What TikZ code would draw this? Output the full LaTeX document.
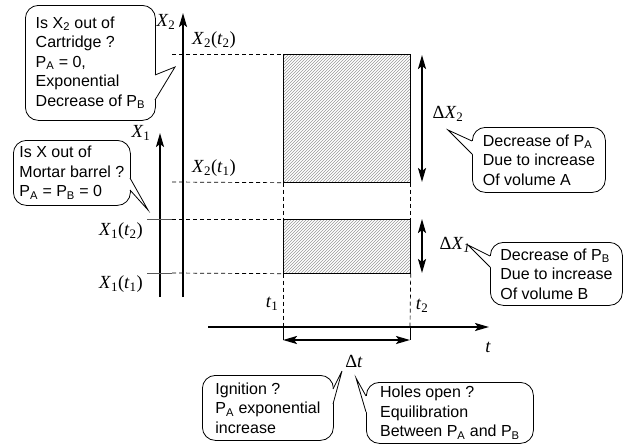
\documentclass[tikz,border=0pt]{standalone}
\usepackage[no-math]{fontspec}
\newfontfamily\bubfont{Liberation Sans}
\newfontfamily\labfont{Liberation Serif}
\usetikzlibrary{arrows.meta,patterns,calc}
\newcommand{\bubptr}[4]{%
  \fill[white] (#1) -- (#2) -- (#3) -- ($(#3)+(#4)$) -- ($(#1)+(#4)$) -- cycle;
  \draw[bubline] (#1) -- (#2) -- (#3);}
\newcommand{\lv}[2]{\textit{#1}\textsubscript{#2}}
\begin{document}
\begin{tikzpicture}[x=1pt,y=-1pt,
  bubline/.style={line width=0.8pt},
  bubble/.style={draw, line width=0.8pt, rounded corners=13pt, anchor=north west, align=left,
    font=\bubfont\fontsize{16}{19.5}\selectfont, inner sep=0pt},
  lab/.style={font=\labfont\fontsize{18.5}{21}\selectfont, inner sep=0pt},
  axis/.style={line width=2pt, -{Stealth[length=14pt,width=8pt,inset=3pt]}},
  dbl/.style={line width=2pt, {Stealth[length=14pt,width=8pt,inset=3pt]}-{Stealth[length=14pt,width=8pt,inset=3pt]}},
  guide/.style={line width=0.7pt, dash pattern=on 4pt off 3pt},
  solidguide/.style={line width=0.7pt, gray!70!black},
  hatch/.style={draw, line width=0.7pt, pattern=north east lines, pattern color=gray!80}]
\useasboundingbox (0,0) rectangle (623,445);

% axes
\coordinate (x1b) at (160,297); \coordinate (x1e) at (160,133);
\coordinate (x2b) at (183,297); \coordinate (x2e) at (183,13);
\coordinate (tb) at (208,327); \coordinate (te) at (489,327);
\draw[axis] (x1b) -- (x1e);
\draw[axis] (x2b) -- (x2e);
\draw[axis] (tb) -- (te);

% rectangles
\node[hatch, minimum width=127pt, minimum height=128pt, inner sep=0pt, anchor=north west] (rA) at (283,54) {};
\node[hatch, minimum width=127pt, minimum height=54pt, inner sep=0pt, anchor=north west] (rB) at (283,219) {};

% guide lines
\coordinate (g2a) at (172,54); \coordinate (g2b) at (172,182);
\coordinate (g1a0) at (147,219); \coordinate (g1a) at (172,219);
\coordinate (g1b0) at (147,273); \coordinate (g1b) at (172,273);
\draw[guide] (g2a) -- (rA.north west);
\draw[guide] (g2b) -- (rA.south west);
\draw[solidguide] (g1a0) -- (g1a);
\draw[solidguide] (g1b0) -- (g1b);
\draw[guide] (g1a) -- (rB.north west);
\draw[guide] (g1b) -- (rB.south west);
\draw[guide] (rA.south west) -- (rB.north west);
\draw[guide] (rA.south east) -- (rB.north east);
\coordinate (t1a) at (283,327); \coordinate (t1b) at (283,340);
\coordinate (t2a) at (410,327); \coordinate (t2b) at (410,340);
\draw[guide] (rB.south west) -- (t1a);
\draw[guide] (rB.south east) -- (t2a);
\draw[line width=0.8pt] (t1a) -- (t1b);
\draw[line width=0.8pt] (t2a) -- (t2b);

% double arrows
\draw[dbl] (t1b) -- (t2b);
\coordinate (d2a) at (422,55); \coordinate (d2b) at (422,182);
\coordinate (d1a) at (422,219); \coordinate (d1b) at (422,273);
\draw[dbl] (d2a) -- (d2b);
\draw[dbl] (d1a) -- (d1b);

% labels
\node[lab] (lX2) at (166,22) {\lv{X}{2}};
\node[lab] (lX1) at (141,133) {\lv{X}{1}};
\node[lab] (lX2t2) at (214,40) {\lv{X}{2}(\lv{t}{2})};
\node[lab] (lX2t1) at (214,168) {\lv{X}{2}(\lv{t}{1})};
\node[lab] (lX1t2) at (121,231) {\lv{X}{1}(\lv{t}{2})};
\node[lab] (lX1t1) at (121,284) {\lv{X}{1}(\lv{t}{1})};
\node[lab] (lt1) at (272,304) {\lv{t}{1}};
\node[lab] (lt2) at (422,306) {\lv{t}{2}};
\node[lab] (lt) at (488,347) {\textit{t}};
\node[lab] (ldt) at (354,361) {Δ\textit{t}};
\node[lab] (ldX2) at (448,114) {Δ\lv{X}{2}};
\node[lab] (ldX1) at (455,245) {Δ\lv{X}{\textit{1}}};

% callouts
\node[bubble, minimum width=130pt, minimum height=115pt] (cA) at (25,5)
  {Is X\textsubscript{2} out of\\Cartridge ?\\P\textsubscript{A} = 0,\\Exponential\\Decrease of P\textsubscript{B}};
\bubptr{155,75}{175,67}{155,100}{-2,0}

\node[bubble, minimum width=117pt, minimum height=65pt] (cM) at (13,140)
  {Is X out of\\Mortar barrel ?\\P\textsubscript{A} = P\textsubscript{B} = 0};
\bubptr{130,178}{148,210}{130,190}{-2,0}

\node[bubble, minimum width=133pt, minimum height=65pt] (cDA) at (472,127)
  {Decrease of P\textsubscript{A}\\Due to increase\\Of volume A};
\bubptr{472,141}{448,130}{472,154}{2,0}

\node[bubble, minimum width=132pt, minimum height=63pt] (cDB) at (490,242)
  {Decrease of P\textsubscript{B}\\Due to increase\\Of volume B};
\bubptr{490,256}{468,245}{490,267}{2,0}

\node[bubble, minimum width=131pt, minimum height=65pt] (cI) at (202,375)
  {Ignition ?\\P\textsubscript{A} exponential\\increase};
\bubptr{333,389}{342,371}{333,404}{-2,0}

\node[bubble, minimum width=167pt, minimum height=61pt] (cH) at (366,382)
  {Holes open ?\\Equilibration\\Between P\textsubscript{A} and P\textsubscript{B}};
\bubptr{366,396}{356,378}{366,412}{2,0}
\end{tikzpicture}
\end{document}
